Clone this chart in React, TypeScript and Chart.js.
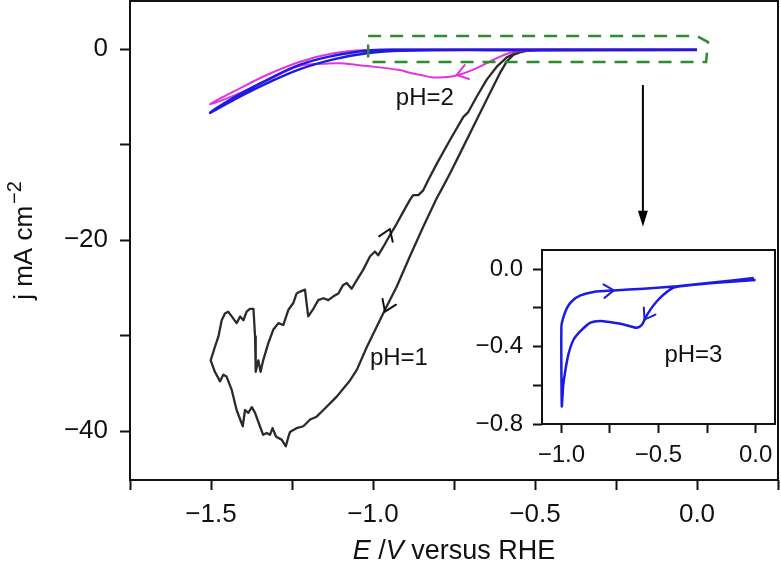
import { useEffect, useRef } from "react";
import { Chart, registerables } from "chart.js";

Chart.register(...registerables);

const FONT = "'Liberation Sans', Arial, Helvetica, sans-serif";

// pH = 1 (black): cathodic sweep from 0 V, then the noisy return sweep
const ph1Potential = [
  0.0, -0.2, -0.4, -0.495, -0.536, -0.567, -0.587, -0.608, -0.639, -0.68, -0.731, -0.762, -0.79,
  -0.803, -0.845, -0.886, -0.927, -0.963, -0.989, -1.019, -1.05, -1.071, -1.112, -1.153, -1.174,
  -1.194, -1.215, -1.236, -1.246, -1.256, -1.261, -1.269, -1.282, -1.299, -1.31, -1.318, -1.328,
  -1.339, -1.349, -1.364, -1.374, -1.385, -1.395, -1.402, -1.421, -1.436, -1.452, -1.462, -1.472,
  -1.488, -1.501,
  -1.488, -1.477, -1.467, -1.457, -1.447, -1.436, -1.421, -1.41, -1.4, -1.39, -1.38, -1.369,
  -1.364, -1.362, -1.354, -1.347, -1.339, -1.323, -1.308, -1.292, -1.277, -1.261, -1.246, -1.236,
  -1.225, -1.21, -1.2, -1.184, -1.169, -1.153, -1.138, -1.122, -1.107, -1.092, -1.081, -1.066,
  -1.05, -1.03, -1.009, -0.994, -0.984, -0.968, -0.948, -0.927, -0.906, -0.886, -0.876, -0.86,
  -0.845, -0.829, -0.803, -0.762, -0.721, -0.706, -0.68, -0.649, -0.618, -0.587, -0.562, -0.526,
  -0.485, 0.0,
];
const ph1Current = [
  -0.08, -0.1, -0.1, -0.1, -0.2, -0.63, -1.3, -2.5, -4.6, -7.4, -10.9, -13.0, -14.8,
  -15.6, -18.6, -21.7, -24.9, -27.3, -29.1, -31.2, -33.6, -34.7, -36.4, -37.8, -38.5,
  -38.8, -39.5, -39.7, -39.9, -40.1, -40.6, -41.6, -40.9, -40.6, -39.7, -40.4, -40.2,
  -40.4, -39.5, -38.1, -37.5, -38.1, -37.8, -39.5, -37.8, -35.7, -34.3, -34.1, -34.8,
  -33.8, -32.6,
  -31.2, -30.1, -28.4, -27.7, -27.5, -28.0, -28.7, -28.0, -28.4, -27.5, -27.2, -27.2,
  -30.1, -33.8, -32.6, -33.8, -32.6, -30.8, -29.4, -28.7, -28.9, -27.3, -26.6, -25.6,
  -25.4, -25.2, -28.0, -27.2, -26.3, -26.1, -26.3, -25.9, -25.6, -24.7, -24.5, -25.1,
  -24.2, -23.1, -21.7, -21.2, -21.6, -20.7, -19.5, -18.3, -17.0, -15.8, -15.3, -15.3,
  -14.8, -13.7, -12.0, -9.5, -7.1, -6.6, -5.0, -3.2, -1.85, -0.87, -0.45, -0.18,
  -0.1, -0.08,
];

// pH = 2 (magenta)
const ph2Potential = [
  0.0, -0.3, -0.5, -0.537, -0.577, -0.629, -0.68, -0.721, -0.762, -0.814, -0.855, -0.896, -0.917,
  -1.019, -1.102, -1.15, -1.225, -1.328, -1.431, -1.503,
  -1.431, -1.328, -1.225, -1.122, -1.019, -0.9, -0.5, 0.0,
];
const ph2Current = [
  -0.05, -0.08, -0.12, -0.18, -0.39, -1.15, -2.0, -2.55, -2.9, -2.97, -2.7, -2.4, -2.2,
  -1.78, -1.5, -1.55, -1.75, -3.3, -4.9, -5.76,
  -4.47, -2.72, -1.33, -0.45, -0.1, -0.05, -0.03, -0.03,
];

// pH = 3 (blue), main panel
const ph3Potential = [
  0.0, -0.5, -0.917, -1.019, -1.122, -1.225, -1.328, -1.431, -1.503,
  -1.431, -1.328, -1.225, -1.122, -1.019, -0.9, -0.5, 0.0,
];
const ph3Current = [
  -0.1, -0.12, -0.17, -0.45, -1.08, -2.1, -3.6, -5.34, -6.67,
  -5.1, -3.25, -1.63, -0.7, -0.17, -0.08, -0.08, -0.08,
];

// pH = 3 (blue), inset
const insetPotential = [
  0.0, -0.146, -0.318, -0.421, -0.473, -0.507, -0.541, -0.567, -0.584, -0.61, -0.636, -0.679,
  -0.73, -0.782, -0.816, -0.851, -0.902, -0.937, -0.962, -0.979, -0.991, -0.998,
  -1.0, -0.988, -0.971, -0.945, -0.902, -0.834, -0.73, -0.576, -0.404, -0.232, -0.009,
];
const insetCurrent = [
  -0.055, -0.065, -0.08, -0.094, -0.13, -0.164, -0.207, -0.25, -0.285, -0.302, -0.297, -0.285,
  -0.276, -0.268, -0.268, -0.276, -0.32, -0.363, -0.432, -0.518, -0.604, -0.708,
  -0.294, -0.242, -0.199, -0.164, -0.135, -0.117, -0.109, -0.1, -0.087, -0.07, -0.045,
];

// sweep-direction arrows: [tipE, tipJ, tailE, tailJ]
const ph1Arrows = [
  [-0.963, -27.5, -0.935, -25.3],
  [-0.948, -18.85, -0.972, -20.9],
];
const ph2Arrows = [[-0.742, -2.72, -0.7, -2.3]];
const insetArrows = [
  [-0.73, -0.109, -0.8, -0.114],
  [-0.572, -0.26, -0.53, -0.19],
];

// dashed zoom box and pointer arrow (data coordinates of the main panel)
const zoomBoxE = [-1.015, 0.0, 0.034, 0.028, -1.015, -1.015];
const zoomBoxJ = [1.36, 1.36, 0.73, -1.36, -1.36, 1.36];
const pointerE = -0.167;
const pointerJ = [-3.77, -18.6];

const mainLabels = [
  ["pH=2", -0.84, -5.13],
  ["pH=1", -0.92, -32.4],
] as const;
const insetLabels = [["pH=3", -0.32, -0.446]] as const;

const BLACK = "#2b2b2b";
const MAGENTA = "#e234e0";
const BLUE = "#1c1ce0";

const minus = (s: string) => s.replace("-", "\u2212");
const onStep = (v: number, step: number) => Math.abs(v / step - Math.round(v / step)) < 1e-6;

const pts = (xs: number[], ys: number[]) => xs.map((x, i) => ({ x, y: ys[i] }));

function chevron(chart: any, a: number[], color: string, len: number) {
  const { ctx, scales } = chart;
  const tx = scales.x.getPixelForValue(a[0]);
  const ty = scales.y.getPixelForValue(a[1]);
  const bx = scales.x.getPixelForValue(a[2]);
  const by = scales.y.getPixelForValue(a[3]);
  const ang = Math.atan2(by - ty, bx - tx);
  ctx.save();
  ctx.strokeStyle = color;
  ctx.lineWidth = 2;
  ctx.lineCap = "round";
  ctx.beginPath();
  ctx.moveTo(tx + len * Math.cos(ang + 0.6), ty + len * Math.sin(ang + 0.6));
  ctx.lineTo(tx, ty);
  ctx.lineTo(tx + len * Math.cos(ang - 0.6), ty + len * Math.sin(ang - 0.6));
  ctx.stroke();
  ctx.restore();
}

function label(chart: any, text: string, x: number, y: number, size: number) {
  const { ctx, scales } = chart;
  ctx.save();
  ctx.font = `${size}px ${FONT}`;
  ctx.fillStyle = "#111";
  ctx.textAlign = "center";
  ctx.textBaseline = "middle";
  ctx.fillText(text, scales.x.getPixelForValue(x), scales.y.getPixelForValue(y));
  ctx.restore();
}

const framePlugin = {
  id: "frame",
  beforeDraw(chart: any) {
    const { ctx, chartArea: a } = chart;
    ctx.save();
    ctx.fillStyle = "#fff";
    ctx.fillRect(a.left, a.top, a.right - a.left, a.bottom - a.top);
    ctx.restore();
  },
  afterDraw(chart: any) {
    const { ctx, chartArea: a } = chart;
    ctx.save();
    ctx.strokeStyle = "#111";
    ctx.lineWidth = 2;
    ctx.strokeRect(a.left, a.top, a.right - a.left, a.bottom - a.top);
    ctx.restore();
  },
};

const mainDecor = {
  id: "mainDecor",
  afterDatasetsDraw(chart: any) {
    const { ctx, scales } = chart;
    // dashed zoom box
    ctx.save();
    ctx.strokeStyle = "#2e8b2e";
    ctx.lineWidth = 2.5;
    ctx.setLineDash([13, 9]);
    ctx.beginPath();
    zoomBoxE.forEach((e, i) => {
      const px = scales.x.getPixelForValue(e);
      const py = scales.y.getPixelForValue(zoomBoxJ[i]);
      if (i === 0) ctx.moveTo(px, py);
      else ctx.lineTo(px, py);
    });
    ctx.stroke();
    ctx.restore();

    // pointer arrow to the inset
    const ax = scales.x.getPixelForValue(pointerE);
    const ay0 = scales.y.getPixelForValue(pointerJ[0]);
    const ay1 = scales.y.getPixelForValue(pointerJ[1]);
    ctx.save();
    ctx.strokeStyle = "#000";
    ctx.fillStyle = "#000";
    ctx.lineWidth = 2;
    ctx.beginPath();
    ctx.moveTo(ax, ay0);
    ctx.lineTo(ax, ay1 - 12);
    ctx.stroke();
    ctx.beginPath();
    ctx.moveTo(ax - 5, ay1 - 16);
    ctx.lineTo(ax + 5, ay1 - 16);
    ctx.lineTo(ax, ay1);
    ctx.closePath();
    ctx.fill();
    ctx.restore();

    ph1Arrows.forEach((a) => chevron(chart, a, "#111", 13));
    ph2Arrows.forEach((a) => chevron(chart, a, MAGENTA, 13));
    mainLabels.forEach(([t, x, y]) => label(chart, t, x, y, 24));
  },
  afterDraw(chart: any) {
    const { ctx, chartArea: a } = chart;
    // x title with italic symbols
    const parts: [string, boolean][] = [
      ["E", true],
      [" /", false],
      ["V", true],
      [" versus RHE", false],
    ];
    ctx.save();
    ctx.fillStyle = "#111";
    ctx.textBaseline = "alphabetic";
    const fontOf = (it: boolean) => `${it ? "italic " : ""}27px ${FONT}`;
    let total = 0;
    parts.forEach(([t, it]) => {
      ctx.font = fontOf(it);
      total += ctx.measureText(t).width;
    });
    let x = (a.left + a.right) / 2 - total / 2;
    parts.forEach(([t, it]) => {
      ctx.font = fontOf(it);
      ctx.fillText(t, x, 559);
      x += ctx.measureText(t).width;
    });

    // y title with superscript
    const cy = (a.top + a.bottom) / 2;
    ctx.translate(32, cy);
    ctx.rotate(-Math.PI / 2);
    ctx.font = `26px ${FONT}`;
    const base = "j mA cm";
    const bw = ctx.measureText(base).width;
    ctx.font = `20px ${FONT}`;
    const sup = "\u22122";
    const sw = ctx.measureText(sup).width;
    const start = -(bw + sw + 2) / 2;
    ctx.font = `26px ${FONT}`;
    ctx.fillText(base, start, 0);
    ctx.font = `20px ${FONT}`;
    ctx.fillText(sup, start + bw + 2, -11);
    ctx.restore();
  },
};

const insetDecor = {
  id: "insetDecor",
  afterDatasetsDraw(chart: any) {
    insetArrows.forEach((a) => chevron(chart, a, BLUE, 12));
    insetLabels.forEach(([t, x, y]) => label(chart, t, x, y, 24));
  },
};

const tickGrid = (len: number) => ({
  drawOnChartArea: false,
  drawTicks: true,
  tickLength: len,
  tickWidth: 2,
  tickColor: "#111",
  color: "#111",
});

// fix an axis' thickness and drop the label overhang padding Chart.js adds
const fixSize = (size: number) => (s: any) => {
  if (s.isHorizontal()) s.height = size;
  else s.width = size;
  s.paddingTop = 0;
  s.paddingBottom = 0;
  s.paddingLeft = 0;
  s.paddingRight = 0;
};

export default function App() {
  const mainRef = useRef<HTMLCanvasElement>(null);
  const insetRef = useRef<HTMLCanvasElement>(null);

  useEffect(() => {
    const line = (data: any, color: string, width: number, tension: number, order: number) => ({
      data,
      borderColor: color,
      borderWidth: width,
      pointRadius: 0,
      showLine: true,
      tension,
      order,
      borderJoinStyle: "round" as const,
    });

    const main = new Chart(mainRef.current!, {
      type: "scatter",
      data: {
        datasets: [
          line(pts(ph3Potential, ph3Current), BLUE, 2.5, 0.4, 0),
          line(pts(ph2Potential, ph2Current), MAGENTA, 2, 0.4, 1),
          line(pts(ph1Potential, ph1Current), BLACK, 2.3, 0, 2),
        ],
      },
      options: {
        responsive: false,
        animation: false,
        layout: { padding: { left: 0, top: 1, right: 3, bottom: 0 } },
        plugins: { legend: { display: false }, tooltip: { enabled: false } },
        scales: {
          x: {
            type: "linear",
            min: -1.75,
            max: 0.25,
            afterFit: fixSize(86),
            grid: tickGrid(10),
            border: { display: false },
            ticks: {
              stepSize: 0.25,
              includeBounds: false,
              autoSkip: false,
              maxRotation: 0,
              padding: 9,
              color: "#111",
              font: { family: FONT, size: 26 },
              callback: (v: any) => (onStep(Number(v), 0.5) ? minus(Number(v).toFixed(1)) : ""),
            },
          },
          y: {
            type: "linear",
            min: -45.13,
            max: 5.03,
            afterFit: fixSize(130),
            grid: tickGrid(10),
            border: { display: false },
            ticks: {
              stepSize: 10,
              includeBounds: false,
              autoSkip: false,
              padding: 12,
              color: "#111",
              font: { family: FONT, size: 26 },
              callback: (v: any) => (onStep(Number(v), 20) ? minus(String(Math.round(Number(v)))) : ""),
            },
          },
        },
      },
      plugins: [framePlugin, mainDecor],
    });

    const inset = new Chart(insetRef.current!, {
      type: "scatter",
      data: {
        datasets: [line(pts(insetPotential, insetCurrent), BLUE, 2.5, 0.2, 0)],
      },
      options: {
        responsive: false,
        animation: false,
        layout: { padding: { left: 0, top: 10, right: 6, bottom: 0 } },
        plugins: { legend: { display: false }, tooltip: { enabled: false } },
        scales: {
          x: {
            type: "linear",
            min: -1.1,
            max: 0.1,
            afterFit: fixSize(46),
            grid: tickGrid(9),
            border: { display: false },
            ticks: {
              stepSize: 0.25,
              includeBounds: false,
              autoSkip: false,
              maxRotation: 0,
              padding: 8,
              color: "#111",
              font: { family: FONT, size: 24 },
              callback: (v: any) => (onStep(Number(v), 0.5) ? minus(Number(v).toFixed(1)) : ""),
            },
          },
          y: {
            type: "linear",
            min: -0.8,
            max: 0.1,
            afterFit: fixSize(82),
            grid: tickGrid(9),
            border: { display: false },
            ticks: {
              stepSize: 0.2,
              includeBounds: false,
              autoSkip: false,
              padding: 10,
              color: "#111",
              font: { family: FONT, size: 24 },
              callback: (v: any) => (onStep(Number(v), 0.4) ? minus(Number(v).toFixed(1)) : ""),
            },
          },
        },
      },
      plugins: [framePlugin, insetDecor],
    });

    return () => {
      main.destroy();
      inset.destroy();
    };
  }, []);

  return (
    <div style={{ position: "absolute", left: 0, top: 0, width: 781, height: 566, background: "#fff" }}>
      <canvas ref={mainRef} width={781} height={566} style={{ position: "absolute", left: 0, top: 0 }} />
      <canvas ref={insetRef} width={321} height={230} style={{ position: "absolute", left: 460, top: 240 }} />
    </div>
  );
}
